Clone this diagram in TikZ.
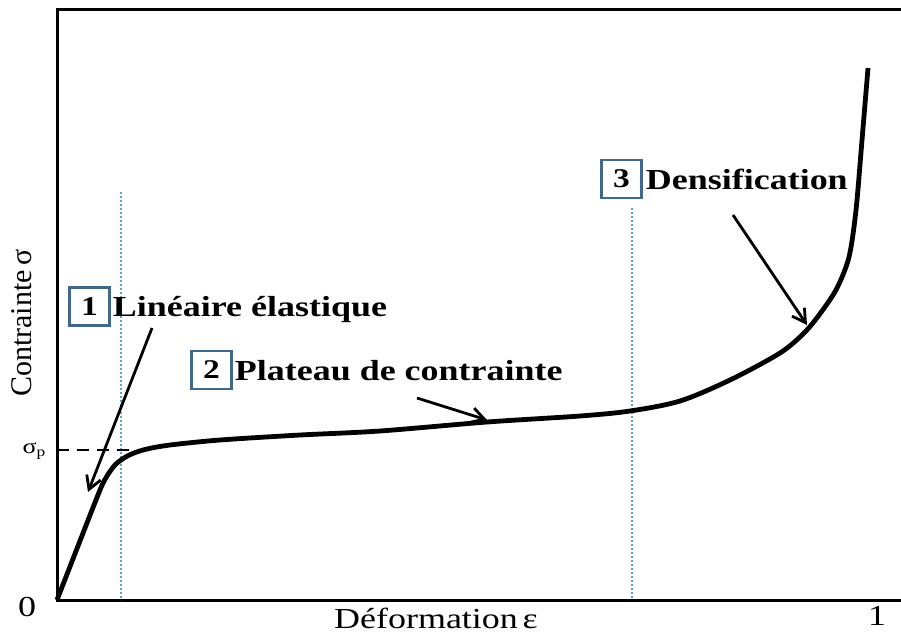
\documentclass[tikz,border=0pt]{standalone}
\usepackage{fontspec}
\setmainfont{Liberation Serif}
\newfontfamily\widefont[FakeStretch=1.24]{Liberation Serif}
\usetikzlibrary{arrows.meta,positioning}
\definecolor{boxblue}{HTML}{41678A}
\definecolor{guideblue}{HTML}{5AA5C8}

\begin{document}
\begin{tikzpicture}[x=1pt,y=-1pt,>={Straight Barb[length=13pt,width=15pt]},
   numbox/.style={draw=boxblue, line width=2.5pt, minimum width=40pt, minimum height=38pt, inner sep=0pt,
                  font=\widefont\fontsize{27}{27}\selectfont\bfseries},
   phase/.style={inner sep=0pt, text height=24pt, text depth=4pt,
                 font=\widefont\fontsize{29}{29}\selectfont\bfseries},
   axislabel/.style={inner sep=0pt, font=\widefont\fontsize{29}{29}\selectfont},
   guide/.style={guideblue, line width=1.1pt, dash pattern=on 2pt off 2pt},
   pointer/.style={->, line width=2.8pt}]
   \useasboundingbox (0,0) rectangle (901,635);

   % frame
   \coordinate (o) at (57,600);
   \coordinate (tl) at (57,9);
   \coordinate (tr) at (901,9);
   \coordinate (br) at (901,600);
   \draw[line width=3pt] (tr) -- (tl) -- (o) -- (br);

   % phase limits
   \coordinate (g1top) at (121,192);
   \coordinate (g1bot) at (121,600);
   \coordinate (g2top) at (632,208);
   \coordinate (g2bot) at (632,600);
   \draw[guide] (g1top) -- (g1bot);
   \draw[guide] (g2top) -- (g2bot);

   % plateau stress
   \coordinate (sp) at (57,450);
   \coordinate (spend) at (132,450);
   \draw[line width=2.5pt, dash pattern=on 12pt off 8pt] (sp) -- (spend);

   % stress-strain curve
   \draw[line width=4.8pt, line join=round] plot[smooth, tension=0.5] coordinates {
      (57,600) (78,546) (100,490) (107,476) (115,465) (124,458) (134,453) (147,449)
      (170,445) (220,440) (300,435) (380,431) (487,422) (580,416) (630,411)
      (680,401) (730,380) (780,353) (805,332) (822,311) (837,288) (849,257)
      (856,210) (862,140) (868,68)};

   % labels
   \node[axislabel] (zero) at (27,607) {0};
   \node[axislabel] (one) at (877,616) {1};
   \node[axislabel] (xlab) at (436,618) {Déformation\,ε};
   \node[inner sep=0pt, rotate=90, font=\fontsize{30}{30}\selectfont] (ylab) at (22,323) {Contrainte\,σ};
   \node[inner sep=0pt, font=\widefont\fontsize{21}{21}\selectfont] (sigp) at (34,451)
        {σ\raisebox{-3pt}{\fontsize{14}{14}\selectfont p}};

   \node[numbox] (b1) at (89.5,306.5) {1};
   \node[numbox] (b2) at (211.5,370) {2};
   \node[numbox] (b3) at (621.5,179) {3};
   \node[phase, right=2pt of b1] (lin) {Linéaire élastique};
   \node[phase, right=2pt of b2] (plat) {Plateau de contrainte};
   \node[phase, right=3pt of b3] (dens) {Densification};

   % pointers
   \coordinate (a1) at (152,328);
   \coordinate (t1) at (88,492);
   \coordinate (a2) at (417,398);
   \coordinate (t2) at (487,420);
   \coordinate (a3) at (733,215);
   \coordinate (t3) at (807,325);
   \path[pointer]
    (a1) edge (t1)
    (a2) edge (t2)
    (a3) edge (t3);
\end{tikzpicture}
\end{document}
